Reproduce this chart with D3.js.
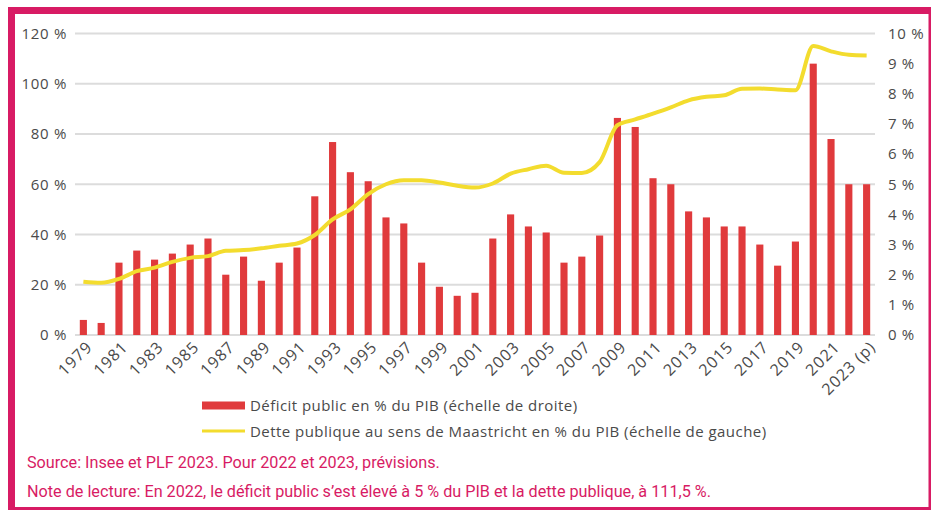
<!DOCTYPE html>
<html>
<head>
<meta charset="utf-8">
<script src="https://cdn.jsdelivr.net/npm/d3@7"></script>
<style>
  html, body { margin: 0; padding: 0; background: #fff; }
  svg { display: block; }
</style>
</head>
<body>
<svg id="chart" width="931" height="510"></svg>
<script>
// Years shown on the x axis
const years = [1979,1980,1981,1982,1983,1984,1985,1986,1987,1988,1989,1990,1991,1992,1993,1994,1995,1996,1997,1998,1999,2000,2001,2002,2003,2004,2005,2006,2007,2008,2009,2010,2011,2012,2013,2014,2015,2016,2017,2018,2019,2020,2021,2022,2023];

// Public deficit, % of GDP (right scale)
const deficit = [0.5,0.4,2.4,2.8,2.5,2.7,3.0,3.2,2.0,2.6,1.8,2.4,2.9,4.6,6.4,5.4,5.1,3.9,3.7,2.4,1.6,1.3,1.4,3.2,4.0,3.6,3.4,2.4,2.6,3.3,7.2,6.9,5.2,5.0,4.1,3.9,3.6,3.6,3.0,2.3,3.1,9.0,6.5,5.0,5.0];

// Maastricht public debt, % of GDP (left scale)
const debt = [21.2,20.8,22.3,25.4,26.8,29.1,30.7,31.4,33.5,33.8,34.5,35.5,36.4,39.8,46.0,50.0,56.1,60.0,61.6,61.6,60.7,59.4,58.7,60.3,64.2,66.0,67.4,64.6,64.5,68.8,83.5,85.8,88.1,90.6,93.4,94.8,95.4,98.0,98.1,97.7,97.4,115.0,112.9,111.5,111.2];

// Axis ticks
const leftTicks = [0,20,40,60,80,100,120];
const rightTicks = [0,1,2,3,4,5,6,7,8,9,10];
const xTickYears = years.filter((d, i) => i % 2 === 0);
const xTickLabel = y => y === 2023 ? "2023 (p)" : String(y);

// Legend and notes
const legendLabels = [
  "Déficit public en % du PIB (échelle de droite)",
  "Dette publique au sens de Maastricht en % du PIB (échelle de gauche)"
];
const notes = [
  "Source: Insee et PLF 2023. Pour 2022 et 2023, prévisions.",
  "Note de lecture: En 2022, le déficit public s’est élevé à 5 % du PIB et la dette publique, à 111,5 %."
];

const pink = "#d81b64";
const red = "#e03a3c";
const yellow = "#f3dc2e";
const grid = "#dcdcdc";
const labelColor = "#4a4a4a";
const font = "'Open Sans', 'Noto Sans', sans-serif";

const svg = d3.select("#chart");

// Frame: thick top/left edges, thin right/bottom edges
svg.append("rect").attr("x", 8).attr("y", 7).attr("width", 923).attr("height", 7).attr("fill", pink);
svg.append("rect").attr("x", 8).attr("y", 7).attr("width", 7).attr("height", 503).attr("fill", pink);
svg.append("rect").attr("x", 928.5).attr("y", 7).attr("width", 2.5).attr("height", 503).attr("fill", pink);
svg.append("rect").attr("x", 8).attr("y", 507).attr("width", 923).attr("height", 3).attr("fill", pink);

const plotLeft = 75, plotRight = 875, plotTop = 33.5, plotBottom = 335;

const x = d3.scaleBand().domain(years).range([plotLeft, plotRight]).paddingInner(0.6).paddingOuter(0.27);
const yLeft = d3.scaleLinear().domain([0, 120]).range([plotBottom, plotTop]);
const yRight = d3.scaleLinear().domain([0, 10]).range([plotBottom, plotTop]);

// Gridlines
svg.append("g")
  .selectAll("line")
  .data(leftTicks)
  .join("line")
  .attr("x1", plotLeft).attr("x2", plotRight)
  .attr("y1", d => yLeft(d)).attr("y2", d => yLeft(d))
  .attr("stroke", grid).attr("stroke-width", 2);

// Left axis
const leftAxis = svg.append("g")
  .attr("transform", `translate(${plotLeft - 8},0)`)
  .call(d3.axisLeft(yLeft).tickValues(leftTicks).tickSize(0).tickPadding(0).tickFormat(d => d + " %"));
leftAxis.select(".domain").remove();
leftAxis.selectAll("text").attr("fill", labelColor).style("font-family", font).style("font-size", "15px").style("letter-spacing", "0.7px");

// Right axis
const rightAxis = svg.append("g")
  .attr("transform", `translate(${plotRight + 13},0)`)
  .call(d3.axisRight(yRight).tickValues(rightTicks).tickSize(0).tickPadding(0).tickFormat(d => d + " %"));
rightAxis.select(".domain").remove();
rightAxis.selectAll("text").attr("fill", labelColor).style("font-family", font).style("font-size", "15px").style("letter-spacing", "0.7px");

// Deficit bars
svg.append("g")
  .selectAll("rect")
  .data(years.map((y, i) => ({ year: y, value: deficit[i] })))
  .join("rect")
  .attr("x", d => x(d.year))
  .attr("width", x.bandwidth())
  .attr("y", d => yRight(d.value))
  .attr("height", d => yRight(0) - yRight(d.value))
  .attr("fill", red);

// Debt line
const line = d3.line()
  .x(d => x(d.year) + x.bandwidth() / 2)
  .y(d => yLeft(d.value))
  .curve(d3.curveMonotoneX);
svg.append("path")
  .datum(years.map((y, i) => ({ year: y, value: debt[i] })))
  .attr("d", line)
  .attr("fill", "none")
  .attr("stroke", yellow)
  .attr("stroke-width", 4)
  .attr("stroke-linejoin", "round");

// X axis labels, rotated
const xAxis = svg.append("g")
  .attr("transform", `translate(0,${plotBottom + 6})`)
  .call(d3.axisBottom(x).tickValues(xTickYears).tickSize(0).tickPadding(0).tickFormat(xTickLabel));
xAxis.select(".domain").remove();
xAxis.selectAll("text")
  .attr("fill", labelColor)
  .style("font-family", font)
  .style("font-size", "16px")
  .style("letter-spacing", "1px")
  .attr("text-anchor", "end")
  .attr("dy", "0.35em")
  .attr("transform", "translate(6,3) rotate(-45)");

// Legend
const legend = svg.append("g");
legend.append("rect").attr("x", 202).attr("y", 401.5).attr("width", 43).attr("height", 8).attr("fill", red);
legend.append("line").attr("x1", 202).attr("x2", 245).attr("y1", 431).attr("y2", 431).attr("stroke", yellow).attr("stroke-width", 3);
legend.selectAll("text")
  .data(legendLabels)
  .join("text")
  .attr("x", 250)
  .attr("y", (d, i) => 405.5 + i * 26)
  .attr("dy", "0.35em")
  .attr("fill", labelColor)
  .style("font-family", font)
  .style("font-size", "15px")
  .style("letter-spacing", "0.45px")
  .text(d => d);

// Source and reading note
svg.append("g")
  .selectAll("text")
  .data(notes)
  .join("text")
  .attr("x", 27)
  .attr("y", (d, i) => 468 + i * 29)
  .attr("fill", pink)
  .style("font-family", "Roboto, 'Open Sans', sans-serif")
  .style("font-size", "16.2px")
  .text(d => d);
</script>
</body>
</html>
